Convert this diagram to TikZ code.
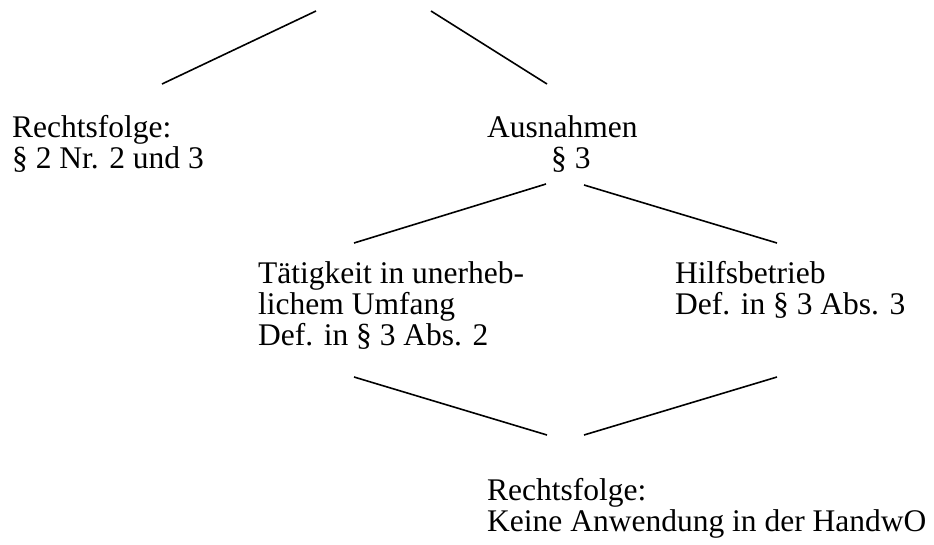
\documentclass[tikz,border=0pt]{standalone}
\usepackage{fontspec}
\setmainfont{Liberation Serif}
\begin{document}
\begin{tikzpicture}[x=1pt,y=-1pt,
  txt/.style={anchor=base west, inner sep=0pt, font=\fontsize{31.5}{31}\selectfont},
  branch/.style={line width=1.6pt}]
\useasboundingbox (0,0) rectangle (934,544);

% text blocks, placed at the baseline of their first line
\node[txt] (folge1) at (12,137)
  {\begin{tabular}[t]{@{}l@{}}Rechtsfolge:\\ § 2 Nr. 2 und 3\end{tabular}};
\node[txt] (ausnahmen) at (487,137)
  {\begin{tabular}[t]{@{}l@{}}Ausnahmen\\ \hspace*{64pt}§ 3\end{tabular}};
\node[txt] (taetigkeit) at (258,283)
  {\begin{tabular}[t]{@{}l@{}}Tätigkeit in unerheb-\\ lichem Umfang\\ Def. in § 3 Abs. 2\end{tabular}};
\node[txt] (hilfs) at (675,283)
  {\begin{tabular}[t]{@{}l@{}}Hilfsbetrieb\\ Def. in § 3 Abs. 3\end{tabular}};
\node[txt] (folge2) at (487,500)
  {\begin{tabular}[t]{@{}l@{}}Rechtsfolge:\\ Keine Anwendung in der HandwO\end{tabular}};

% end points of the branches
\coordinate (topL) at (316,11);
\coordinate (topR) at (431,11);
\coordinate (f1top) at (162,84);
\coordinate (auTop) at (547,84);
\coordinate (auL) at (546,184);
\coordinate (auR) at (584,185);
\coordinate (taTop) at (354,243);
\coordinate (hiTop) at (777,243);
\coordinate (taBot) at (354,377);
\coordinate (hiBot) at (777,377);
\coordinate (f2L) at (547,435);
\coordinate (f2R) at (584,435);

\draw[branch] (topL) -- (f1top);
\draw[branch] (topR) -- (auTop);
\draw[branch] (auL) -- (taTop);
\draw[branch] (auR) -- (hiTop);
\draw[branch] (taBot) -- (f2L);
\draw[branch] (hiBot) -- (f2R);
\end{tikzpicture}
\end{document}
